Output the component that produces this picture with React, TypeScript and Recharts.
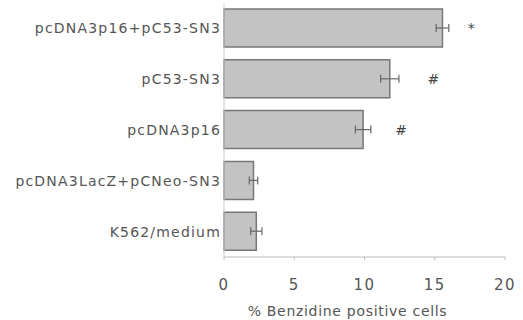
import {
  BarChart, Bar, XAxis, YAxis, ErrorBar, ReferenceDot,
} from "recharts";

const categories = [
  "pcDNA3p16+pC53-SN3",
  "pC53-SN3",
  "pcDNA3p16",
  "pcDNA3LacZ+pCNeo-SN3",
  "K562/medium",
];
const values = [15.55, 11.8, 9.9, 2.1, 2.3];
const errors = [0.45, 0.65, 0.55, 0.3, 0.4];
const marks = ["*", "#", "#", "", ""];
const markAt = [17.6, 14.9, 12.6, 0, 0];
const xTicks = [0, 5, 10, 15, 20];

const font = "'DejaVu Sans', Verdana, sans-serif";
const textColor = "#555";

export default function App() {
  const data = categories.map((name, i) => ({ name, value: values[i], err: errors[i] }));

  return (
    <div style={{ position: "absolute", left: 0, top: 0, width: 523, height: 320, background: "#fff", fontFamily: font }}>
      <BarChart
        width={523}
        height={320}
        data={data}
        layout="vertical"
        margin={{ top: 3, right: 18, left: 0, bottom: 0 }}
      >
        <XAxis
          type="number"
          domain={[0, 20]}
          ticks={xTicks}
          height={63}
          stroke="#bbb"
          tickSize={3}
          tickMargin={19}
          tick={{ fill: textColor, fontSize: 15, fontFamily: font, letterSpacing: 1.5 }}
          label={{
            value: "% Benzidine positive cells",
            position: "insideBottom",
            offset: 4,
            dx: -17,
            style: { fill: textColor, fontSize: 14, fontFamily: font, letterSpacing: 0.7 },
          }}
        />
        <YAxis
          type="category"
          dataKey="name"
          width={224}
          stroke="#ccc"
          tickLine={false}
          tickSize={0}
          tickMargin={3}
          tick={{ fill: textColor, fontSize: 14, fontFamily: font, letterSpacing: 1.2 }}
        />
        <Bar dataKey="value" barSize={38} fill="#c3c3c3" stroke="#777" strokeWidth={1.5} isAnimationActive={false}>
          <ErrorBar dataKey="err" direction="x" width={4} stroke="#666" strokeWidth={1.2} />
        </Bar>
        {marks.map((m, i) =>
          m ? (
            <ReferenceDot
              key={i}
              x={markAt[i]}
              y={categories[i]}
              r={1}
              fill="none"
              stroke="none"
              ifOverflow="visible"
              label={{ value: m, position: "center", fill: "#444", fontSize: 14, fontFamily: font }}
            />
          ) : null
        )}
      </BarChart>
    </div>
  );
}
